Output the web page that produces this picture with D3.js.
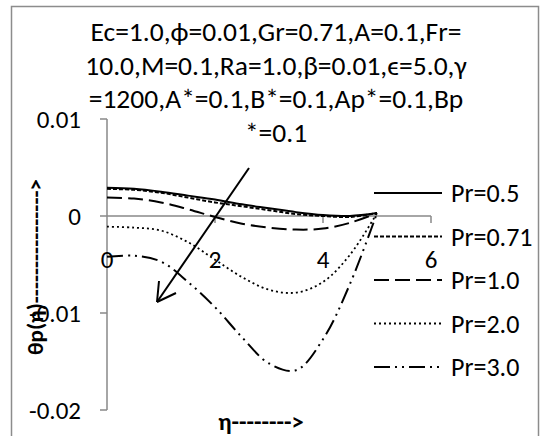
<!DOCTYPE html>
<html>
<head>
<meta charset="utf-8">
<script src="https://d3js.org/d3.v7.min.js"></script>
<style>
  body { margin: 0; background: #fff; }
  text { font-family: Carlito, Lato, "Noto Sans", sans-serif; }
</style>
</head>
<body>
<svg id="chart" width="540" height="436"></svg>
<script>
// eta values and theta_p for each Prandtl number
var eta   = [0, 0.5, 1, 1.5, 2, 2.5, 3, 3.5, 4, 4.5, 5];
var pr05  = [0.0029, 0.0028, 0.0025, 0.0021, 0.0017, 0.0012, 0.0008, 0.0004, 0.0001, 0.0000, 0.0003];
var pr071 = [0.0028, 0.0027, 0.0024, 0.0019, 0.0014, 0.0010, 0.0006, 0.0002, 0.0000, -0.0001, 0.0003];
var pr10  = [0.0019, 0.0018, 0.0014, 0.0007, -0.0001, -0.0008, -0.0012, -0.0014, -0.0013, -0.0007, 0.0003];
var pr20  = [-0.0011, -0.0012, -0.0015, -0.0027, -0.0045, -0.0063, -0.0076, -0.0079, -0.0068, -0.0040, 0.0003];
var pr30  = [-0.0042, -0.0041, -0.0047, -0.0068, -0.0094, -0.0125, -0.0152, -0.0159, -0.0127, -0.0070, 0.0003];

var seriesNames = ["Pr=0.5", "Pr=0.71", "Pr=1.0", "Pr=2.0", "Pr=3.0"];
var seriesVals  = [pr05, pr071, pr10, pr20, pr30];
var dashes      = [null, "4,2", "15,6", "2,3", "16,5,2,5,2,5"];

var xTicks = [0, 2, 4, 6];
var yTicks = [0.01, 0, -0.01, -0.02];

var titleLines = [
  "Ec=1.0,\u03d5=0.01,Gr=0.71,A=0.1,Fr=",
  "10.0,M=0.1,Ra=1.0,\u03b2=0.01,\u03f5=5.0,\u03b3",
  "=1200,A*=0.1,B*=0.1,Ap*=0.1,Bp",
  "*=0.1"
];

var svg = d3.select("#chart");

// outer chart border
svg.append("rect")
  .attr("x", 11.5).attr("y", 6.5)
  .attr("width", 527).attr("height", 440)
  .attr("fill", "none").attr("stroke", "#8c8c8c").attr("stroke-width", 1.5);

var x = d3.scaleLinear().domain([0, 6]).range([107, 431]);
var y = d3.scaleLinear().domain([-0.02, 0.01]).range([410, 119]);

var grey = "#888";

// y axis
svg.append("line")
  .attr("x1", x(0)).attr("x2", x(0))
  .attr("y1", y(0.01)).attr("y2", y(-0.02))
  .attr("stroke", grey).attr("stroke-width", 1.5);
svg.selectAll(".ytick").data(yTicks).enter().append("line")
  .attr("x1", x(0) - 7).attr("x2", x(0))
  .attr("y1", function(d) { return y(d); })
  .attr("y2", function(d) { return y(d); })
  .attr("stroke", grey).attr("stroke-width", 1.5);
svg.selectAll(".ylab").data(yTicks).enter().append("text")
  .attr("x", 81)
  .attr("y", function(d) { return y(d) + 9; })
  .attr("text-anchor", "end")
  .attr("font-size", 25)
  .text(function(d) { return String(d); });

// x axis along zero
svg.append("line")
  .attr("x1", x(0)).attr("x2", x(6))
  .attr("y1", y(0)).attr("y2", y(0))
  .attr("stroke", grey).attr("stroke-width", 1.5);
svg.selectAll(".xtick").data(xTicks.slice(1)).enter().append("line")
  .attr("x1", function(d) { return x(d); })
  .attr("x2", function(d) { return x(d); })
  .attr("y1", y(0)).attr("y2", y(0) + 7)
  .attr("stroke", grey).attr("stroke-width", 1.5);
svg.selectAll(".xlab").data(xTicks).enter().append("text")
  .attr("x", function(d) { return x(d); })
  .attr("y", 268)
  .attr("text-anchor", "middle")
  .attr("font-size", 25)
  .text(function(d) { return d; });

// curves
var line = d3.line()
  .x(function(d, i) { return x(eta[i]); })
  .y(function(d) { return y(d); })
  .curve(d3.curveCatmullRom.alpha(0.5));

svg.selectAll(".curve").data(seriesVals).enter().append("path")
  .attr("d", line)
  .attr("fill", "none")
  .attr("stroke", "#000")
  .attr("stroke-width", function(d, i) { return i === 3 ? 1.8 : 2; })
  .attr("stroke-dasharray", function(d, i) { return dashes[i]; });

// title
svg.selectAll(".title").data(titleLines).enter().append("text")
  .attr("x", 276)
  .attr("y", function(d, i) { return 41 + i * 33.5; })
  .attr("text-anchor", "middle")
  .attr("font-size", 27.5)
  .text(function(d) { return d; });

// legend
var legend = svg.selectAll(".leg").data(seriesNames).enter().append("g")
  .attr("transform", function(d, i) { return "translate(374," + (193 + i * 43.5) + ")"; });
legend.append("line")
  .attr("x1", 0).attr("x2", 68)
  .attr("stroke", "#000").attr("stroke-width", 2)
  .attr("stroke-dasharray", function(d, i) { return dashes[i]; });
legend.append("text")
  .attr("x", 77).attr("y", 9)
  .attr("font-size", 26)
  .text(function(d) { return d; });

// trend arrow
svg.append("line")
  .attr("x1", 249).attr("y1", 168)
  .attr("x2", 157).attr("y2", 302)
  .attr("stroke", "#000").attr("stroke-width", 2);
svg.append("path")
  .attr("d", "M157,302 L159,281 M157,302 L176,293")
  .attr("fill", "none").attr("stroke", "#000").attr("stroke-width", 2);

// axis titles
svg.append("text")
  .attr("transform", "translate(43,267) rotate(-90)")
  .attr("text-anchor", "middle")
  .attr("font-size", 23).attr("font-weight", "bold")
  .text("\u03b8p(\u03b7)---------------->");
svg.append("text")
  .attr("x", 261).attr("y", 430)
  .attr("text-anchor", "middle")
  .attr("font-size", 24.5).attr("font-weight", "bold")
  .text("\u03b7-------->");
</script>
</body>
</html>
